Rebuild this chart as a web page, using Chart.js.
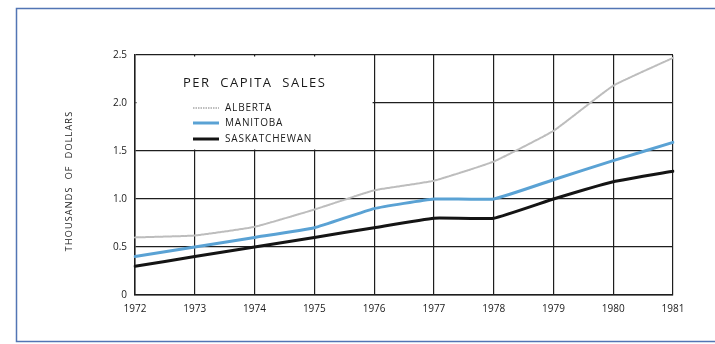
<!DOCTYPE HTML>
<html>
<head>
  <script src="https://cdn.jsdelivr.net/npm/chart.js"></script>
  <style>
    body { margin: 0; background: #fff; }
    #wrap { width: 715px; height: 344px; }
  </style>
</head>
<body>
  <div id="wrap"><canvas id="salesChart" width="715" height="344"></canvas></div>

  <script>
    // Per capita sales, thousands of dollars
    var years = ['1972', '1973', '1974', '1975', '1976', '1977', '1978', '1979', '1980', '1981'];
    var alberta = [0.6, 0.62, 0.71, 0.89, 1.09, 1.19, 1.39, 1.71, 2.18, 2.47];
    var manitoba = [0.4, 0.5, 0.6, 0.7, 0.9, 1.0, 1.0, 1.2, 1.4, 1.59];
    var saskatchewan = [0.3, 0.4, 0.5, 0.6, 0.7, 0.8, 0.8, 1.0, 1.18, 1.29];
    var yTicks = [0, 0.5, 1.0, 1.5, 2.0, 2.5];

    var FONT = "'Open Sans', sans-serif";

    // frame, blank legend corner and the hand-set legend
    var decor = {
      id: 'decor',
      beforeDraw: function (chart) {
        var ctx = chart.ctx;
        ctx.save();
        ctx.fillStyle = '#fff';
        ctx.fillRect(0, 0, chart.width, chart.height);
        ctx.strokeStyle = '#5275b4';
        ctx.lineWidth = 1.5;
        ctx.strokeRect(16.5, 8.5, 720, 333);
        ctx.restore();
      },
      beforeDatasetsDraw: function (chart) {
        var ctx = chart.ctx, x = chart.scales.x, y = chart.scales.y;
        var l = x.getPixelForValue(0) + 1.5, r = x.getPixelForValue(4) - 1.5;
        var t = y.getPixelForValue(2.5) + 1.5, b = y.getPixelForValue(1.5) - 1.5;
        ctx.save();
        ctx.fillStyle = '#fff';
        ctx.fillRect(l, t, r - l, b - t);

        ctx.fillStyle = '#1a1a1a';
        ctx.textBaseline = 'middle';
        ctx.letterSpacing = '1.5px';
        ctx.font = '500 13px ' + FONT;
        ctx.fillText('PER  CAPITA  SALES', 183, 83);

        ctx.font = '500 10px ' + FONT;
        ctx.letterSpacing = '0.8px';
        var rows = [108, 123, 139];
        chart.data.datasets.forEach(function (ds, i) {
          ctx.strokeStyle = ds.borderColor;
          ctx.lineWidth = ds.borderWidth;
          ctx.setLineDash(ds.borderDash || []);
          ctx.beginPath();
          ctx.moveTo(193, rows[i]);
          ctx.lineTo(219, rows[i]);
          ctx.stroke();
          ctx.fillText(ds.label, 225, rows[i] + 0.5);
        });
        ctx.setLineDash([]);

        // axis title
        ctx.translate(69, 181);
        ctx.rotate(-Math.PI / 2);
        ctx.textAlign = 'center';
        ctx.font = '500 9px ' + FONT;
        ctx.letterSpacing = '1.2px';
        ctx.fillText('THOUSANDS  OF  DOLLARS', 0, 0);
        ctx.restore();
      }
    };

    new Chart(document.getElementById('salesChart'), {
      type: 'line',
      data: {
        labels: years,
        datasets: [
          { label: 'ALBERTA', data: alberta, borderColor: '#bdbdbd', borderWidth: 2, borderDash: [1.5, 1] },
          { label: 'MANITOBA', data: manitoba, borderColor: '#5aa2d4', borderWidth: 3 },
          { label: 'SASKATCHEWAN', data: saskatchewan, borderColor: '#141414', borderWidth: 3 }
        ]
      },
      options: {
        responsive: false,
        animation: false,
        layout: { padding: { top: 55, right: 42, left: 0, bottom: 0 } },
        elements: {
          point: { radius: 0 },
          line: { tension: 0.12, fill: false, borderCapStyle: 'round', borderJoinStyle: 'round' }
        },
        plugins: { legend: { display: false }, tooltip: { enabled: false } },
        scales: {
          x: {
            offset: false,
            afterFit: function (s) { s.height = 49; },
            grid: { color: '#1e1e1e', lineWidth: 1.2, drawTicks: false },
            border: { color: '#1e1e1e', width: 1.5 },
            ticks: { color: '#1a1a1a', padding: 8, maxRotation: 0, font: { family: FONT, size: 10, weight: '500' } }
          },
          y: {
            min: 0,
            max: 2.5,
            afterFit: function (s) { s.width = 135; },
            afterBuildTicks: function (s) { s.ticks = yTicks.map(function (v) { return { value: v }; }); },
            grid: { color: '#1e1e1e', lineWidth: 1.2, drawTicks: false },
            border: { color: '#1e1e1e', width: 1.5 },
            ticks: {
              color: '#1a1a1a',
              padding: 8,
              font: { family: FONT, size: 10, weight: '500' },
              callback: function (v) { return v === 0 ? '0' : v.toFixed(1); }
            }
          }
        }
      },
      plugins: [decor]
    });
  </script>
</body>
</html>
